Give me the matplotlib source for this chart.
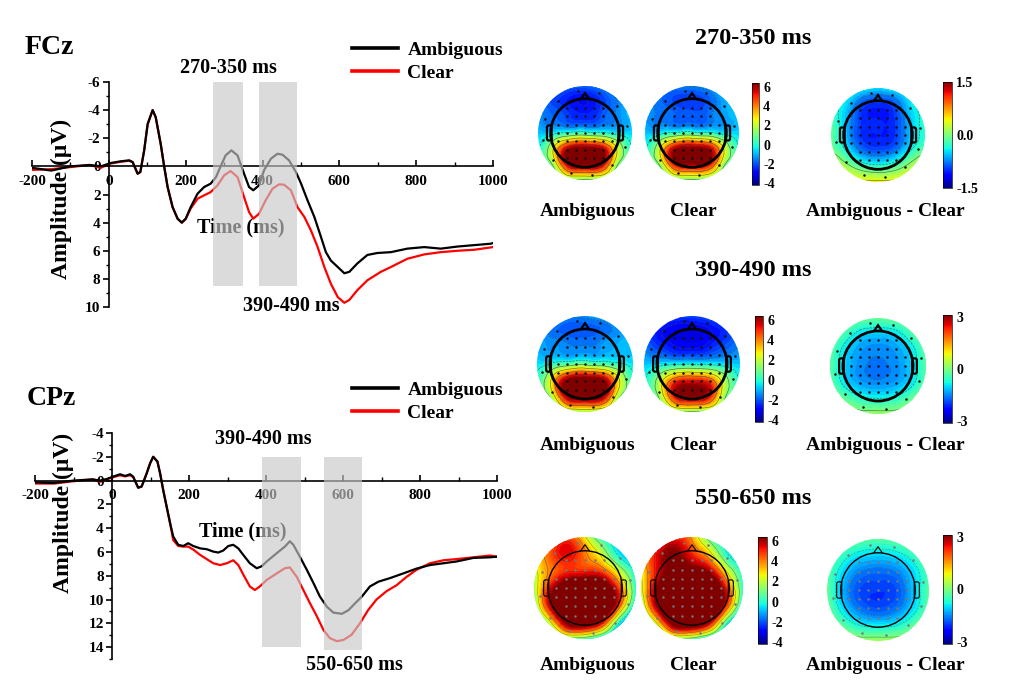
import numpy as np
import matplotlib
matplotlib.use("Agg")
import matplotlib.pyplot as plt
import matplotlib.tri as mtri
from matplotlib.patches import Circle, Polygon, FancyBboxPatch
from matplotlib.lines import Line2D
from matplotlib.ticker import MultipleLocator

plt.rcParams["font.family"] = ["Liberation Serif", "DejaVu Serif"]
plt.rcParams["font.weight"] = "bold"
plt.rcParams["axes.unicode_minus"] = False

# =========================
# ERP WAVEFORMS
# =========================
fcz_amb_t = [-200, -150, -100, -50, -21, 5, 31, 53, 62, 75, 82, 92, 101, 114, 122, 135,
             144, 153, 166, 179, 190, 200, 213, 231, 248, 265, 279, 291, 304, 319, 335,
             352, 365, 376, 391, 404, 422, 439, 452, 469, 487, 500, 517, 535, 552, 565,
             578, 596, 613, 626, 647, 673, 699, 734, 777, 821, 864, 908, 951, 994, 1000]
fcz_amb = [0.1, 0.3, 0.0, -0.1, 0.0, -0.24, -0.36, -0.43, -0.3, 0.52, 0.4, -1.14, -3.0,
           -4.0, -3.5, -1.6, 0.0, 1.47, 2.9, 3.72, 4.0, 3.72, 2.9, 1.94, 1.47, 1.23, 0.76,
           0.0, -0.78, -1.14, -0.78, 0.52, 1.47, 1.7, 1.35, 0.28, -0.55, -0.9, -0.83,
           -0.43, 0.4, 1.2, 2.4, 3.6, 5.0, 6.1, 6.7, 7.16, 7.6, 7.5, 6.9, 6.3, 6.16, 6.1,
           5.85, 5.74, 5.85, 5.7, 5.6, 5.5, 5.45]

fcz_clear_t = [-200, -150, -100, -50, -21, 5, 31, 53, 62, 75, 82, 92, 101, 114, 122, 135,
               144, 153, 166, 179, 190, 200, 213, 231, 248, 265, 283, 300, 317, 335, 352,
               365, 376, 391, 408, 426, 443, 456, 474, 491, 509, 526, 543, 561, 578, 596,
               613, 626, 647, 673, 708, 734, 777, 821, 864, 908, 951, 1000]
fcz_clear = [0.25, 0.2, 0.05, -0.1, 0.1, -0.2, -0.33, -0.4, -0.3, 0.52, 0.4, -1.14, -3.0,
             -4.0, -3.5, -1.6, 0.0, 1.47, 2.9, 3.72, 4.0, 3.75, 3.0, 2.3, 2.06, 1.83, 1.35,
             0.64, 0.33, 0.76, 2.18, 3.25, 3.72, 3.37, 2.42, 1.59, 1.28, 1.3, 1.7, 2.9, 3.6,
             4.55, 5.7, 7.16, 8.35, 9.3, 9.7, 9.5, 8.8, 8.1, 7.5, 7.16, 6.57, 6.26, 6.1, 6.0,
             5.93, 5.74]

cpz_amb_t = [-200, -150, -100, -50, -31, -14, 8, 21, 34, 47, 55, 68, 77, 90, 99, 107, 118,
             125, 133, 142, 151, 159, 172, 185, 198, 211, 229, 246, 263, 276, 289, 302,
             315, 328, 341, 358, 376, 389, 402, 428, 449, 462, 471, 488, 506, 523, 540,
             558, 575, 597, 614, 632, 649, 670, 692, 722, 757, 791, 826, 861, 895, 939,
             982, 1000]
cpz_amb = [0.15, 0.2, 0.0, -0.1, 0.0, -0.13, -0.39, -0.53, -0.39, -0.53, -0.33, 0.6, 0.5,
           -0.6, -1.45, -2.0, -1.6, -0.6, 0.8, 2.2, 3.6, 4.7, 5.4, 5.5, 5.27, 5.5, 5.7,
           5.77, 5.97, 6.05, 5.88, 5.5, 5.4, 5.7, 6.25, 6.95, 7.37, 7.2, 6.8, 6.1, 5.55,
           5.1, 5.4, 6.4, 7.5, 8.6, 9.75, 10.6, 11.1, 11.2, 10.9, 10.3, 9.75, 8.9, 8.5,
           8.2, 7.8, 7.4, 7.1, 6.95, 6.8, 6.5, 6.45, 6.4]

cpz_clear_t = [-200, -150, -100, -50, -31, -14, 8, 21, 34, 47, 55, 68, 77, 90, 99, 107,
               118, 125, 133, 142, 151, 159, 172, 185, 198, 211, 229, 246, 263, 281, 298,
               315, 328, 341, 358, 371, 384, 402, 428, 449, 462, 480, 497, 514, 532, 549,
               566, 584, 601, 622, 644, 665, 687, 713, 739, 765, 791, 826, 861, 895, 939,
               982, 1000]
cpz_clear = [0.25, 0.25, 0.05, -0.1, 0.1, -0.1, -0.33, -0.45, -0.35, -0.45, -0.3, 0.6,
             0.5, -0.6, -1.45, -2.0, -1.6, -0.6, 0.8, 2.2, 3.6, 5.0, 5.5, 5.55, 5.55, 5.8,
             6.25, 6.6, 6.95, 7.1, 6.95, 6.7, 7.1, 7.9, 8.9, 9.2, 8.9, 8.35, 7.8, 7.37, 7.3,
             8.1, 9.2, 10.3, 11.4, 12.55, 13.25, 13.5, 13.4, 12.97, 12.0, 10.9, 10.0, 9.3,
             8.8, 8.1, 7.5, 6.95, 6.7, 6.6, 6.45, 6.3, 6.4]

# analysis windows: start, end (ms), shaded amplitude range
fcz_windows = [(270, 350, -6, 8.5), (390, 490, -6, 8.5)]
cpz_windows = [(390, 490, -2, 14), (550, 650, -2, 14.25)]

# =========================
# TOPOGRAPHIC MAPS (7x7 grid, front of head at top)
# =========================
topo_270_amb = [[-1.0, -1.4, -1.8, -1.9, -1.5, -0.9, -0.6],
                [-1.5, -2.2, -2.7, -2.9, -2.4, -1.6, -0.9],
                [-1.3, -1.8, -2.3, -2.5, -2.1, -1.5, -0.9],
                [-0.8, -0.5, 0.0, 0.2, 0.0, -0.5, -0.6],
                [-0.3, 2.5, 6.0, 6.5, 6.0, 2.5, -0.2],
                [0.3, 1.5, 6.0, 6.5, 6.0, 1.5, 0.3],
                [0.5, 0.5, 0.8, 1.0, 0.8, 0.5, 0.5]]
topo_270_clear = [[-0.8, -1.2, -1.5, -1.5, -1.2, -0.5, -0.3],
                  [-1.3, -1.8, -2.2, -2.3, -2.0, -1.2, -0.6],
                  [-1.2, -1.6, -1.9, -2.0, -1.8, -1.3, -0.8],
                  [-0.8, -0.5, 0.0, 0.2, 0.0, -0.5, -0.6],
                  [-0.3, 2.5, 6.0, 6.5, 6.0, 2.5, -0.2],
                  [0.3, 1.5, 5.5, 6.0, 5.5, 1.5, 0.3],
                  [0.5, 0.5, 0.8, 1.0, 0.8, 0.5, 0.5]]
topo_270_diff = [[-0.2, -0.3, -0.4, -0.5, -0.4, -0.3, -0.2],
                 [-0.3, -0.5, -0.9, -1.0, -0.9, -0.5, -0.3],
                 [-0.2, -0.6, -1.0, -1.05, -1.0, -0.6, -0.3],
                 [-0.1, -0.6, -1.0, -1.05, -1.0, -0.6, -0.3],
                 [0.0, -0.4, -0.8, -0.9, -0.8, -0.4, -0.1],
                 [0.4, 0.1, -0.2, -0.3, -0.2, 0.1, 0.4],
                 [0.5, 0.5, 0.45, 0.45, 0.45, 0.5, 0.5]]

topo_390_amb = [[-1.0, -1.2, -1.4, -1.4, -1.2, -1.0, -0.8],
                [-1.3, -1.7, -2.0, -2.0, -1.8, -1.4, -1.0],
                [-1.0, -1.3, -1.5, -1.5, -1.3, -1.0, -0.8],
                [-0.5, 0.0, 0.5, 0.8, 0.5, 0.0, -0.5],
                [0.0, 3.0, 6.5, 7.0, 6.5, 3.0, 0.0],
                [0.3, 2.0, 6.5, 7.0, 6.5, 2.0, 0.3],
                [0.5, 0.8, 1.2, 1.5, 1.2, 0.8, 0.5]]
topo_390_clear = [[-1.3, -1.8, -2.2, -2.2, -2.0, -1.6, -1.2],
                  [-2.0, -2.8, -3.2, -3.3, -3.0, -2.5, -1.8],
                  [-1.6, -2.3, -2.8, -2.9, -2.6, -2.0, -1.5],
                  [-0.8, -0.6, -0.4, -0.3, -0.4, -0.6, -0.8],
                  [-0.3, 1.8, 4.5, 5.0, 4.5, 1.8, -0.3],
                  [0.0, 1.5, 5.5, 6.3, 5.5, 1.5, 0.0],
                  [0.3, 0.5, 0.8, 1.0, 0.8, 0.5, 0.3]]
topo_390_diff = [[0.1, 0.0, -0.1, -0.2, -0.1, 0.0, 0.1],
                 [0.0, -0.5, -1.0, -1.1, -1.0, -0.5, 0.0],
                 [-0.2, -1.0, -1.4, -1.5, -1.4, -1.0, -0.2],
                 [-0.3, -1.1, -1.5, -1.6, -1.5, -1.1, -0.3],
                 [-0.2, -1.0, -1.4, -1.5, -1.4, -1.0, -0.2],
                 [0.1, -0.3, -0.7, -0.8, -0.7, -0.3, 0.1],
                 [0.4, 0.3, 0.2, 0.2, 0.2, 0.3, 0.4]]

topo_550_amb = [[1.5, 3.5, 4.5, 2.5, 0.0, -1.0, -1.5],
                [2.5, 4.5, 5.5, 4.0, 2.0, -0.5, -1.5],
                [2.0, 4.0, 5.0, 5.0, 4.5, 2.0, -0.5],
                [1.5, 5.5, 8.0, 8.5, 8.0, 4.5, 0.0],
                [0.5, 6.0, 9.0, 9.5, 9.0, 4.5, -1.0],
                [-0.3, 2.5, 7.0, 7.5, 5.5, 0.0, -3.0],
                [-0.5, 0.0, 0.5, 0.3, -1.0, -2.5, -3.5]]
topo_550_clear = [[2.0, 4.0, 5.0, 3.5, 0.5, -0.5, -1.0],
                  [3.0, 5.5, 6.5, 5.0, 3.0, 0.0, -1.0],
                  [2.5, 5.5, 7.0, 7.0, 6.0, 2.5, -0.3],
                  [2.0, 6.5, 9.0, 9.5, 9.0, 5.0, 0.0],
                  [1.0, 6.5, 9.5, 10.0, 9.5, 5.0, -0.8],
                  [0.0, 3.0, 7.5, 8.0, 6.0, 0.5, -2.5],
                  [-0.5, 0.3, 0.8, 0.5, -0.8, -2.0, -3.0]]
topo_550_diff = [[0.2, 0.0, -0.2, -0.3, -0.2, 0.0, 0.2],
                 [0.0, -0.6, -1.0, -1.1, -1.0, -0.6, 0.0],
                 [-0.2, -1.1, -1.6, -1.7, -1.6, -1.1, -0.3],
                 [-0.2, -1.3, -1.9, -2.0, -1.9, -1.2, -0.3],
                 [-0.1, -1.1, -1.7, -1.9, -1.7, -1.1, -0.2],
                 [0.2, -0.4, -0.9, -1.0, -0.9, -0.4, 0.2],
                 [0.5, 0.4, 0.3, 0.3, 0.3, 0.4, 0.5]]

W, H = 1031, 696
fig = plt.figure(figsize=(W / 100, H / 100), dpi=100)


def fx(px):
    return px / W


def fy(py):
    return 1 - py / H


def erp_panel(left, right, top, bottom, ylim, amb_t, amb, clear_t, clear, windows, title,
              title_xy, legend_top, ylabel_xy, notes, time_xy):
    ax = fig.add_axes([fx(left), fy(bottom), (right - left) / W, (bottom - top) / H])
    ax.plot(clear_t, clear, color="red", lw=1.6, zorder=2)
    ax.plot(amb_t, amb, color="black", lw=1.6, zorder=2)
    ax.set_xlim(-200, 1000)
    ax.set_ylim(ylim)
    for spine in ["top", "right"]:
        ax.spines[spine].set_visible(False)
    ax.spines["left"].set_position(("data", 0))
    ax.spines["bottom"].set_position(("data", 0))
    ax.spines["left"].set_linewidth(1.2)
    ax.spines["bottom"].set_linewidth(1.2)
    ax.xaxis.set_major_locator(MultipleLocator(200))
    ax.xaxis.set_minor_locator(MultipleLocator(100))
    ax.yaxis.set_major_locator(MultipleLocator(2))
    ax.yaxis.set_minor_locator(MultipleLocator(1))
    ax.tick_params(axis="x", which="both", direction="in", labelsize=11, pad=6)
    ax.tick_params(axis="x", which="major", length=4, width=1.2)
    ax.tick_params(axis="x", which="minor", length=3, width=1)
    ax.tick_params(axis="y", which="both", direction="out", labelsize=11, pad=2)
    ax.tick_params(axis="y", which="major", length=4, width=1.2)
    ax.tick_params(axis="y", which="minor", length=2, width=1)
    ax.patch.set_visible(False)

    for a, b, y0, y1 in windows:
        ax.fill_between([a, b], y0, y1, color="#c8c8c8", alpha=0.65, lw=0, zorder=5)

    ax.text(time_xy[0], time_xy[1], "Time (ms)", fontsize=14.5, ha="center",
            va="center", zorder=3)
    for txt, x, y in notes:
        ax.text(x, y, txt, fontsize=14.5, ha="center", va="center", clip_on=False)

    fig.text(fx(title_xy[0]), fy(title_xy[1]), title, fontsize=20, ha="left", va="center")
    fig.text(fx(ylabel_xy[0]), fy(ylabel_xy[1]), "Amplitude (\u03bcV)", fontsize=17,
             rotation=90, ha="center", va="center")

    handles = [Line2D([], [], color="black", lw=2.6), Line2D([], [], color="red", lw=2.6)]
    ax.legend(handles, ["Ambiguous", "Clear"], loc="upper left",
              bbox_to_anchor=(fx(352), fy(legend_top)), bbox_transform=fig.transFigure,
              frameon=False, fontsize=14, handlelength=2.35, handletextpad=0.5,
              labelspacing=0.3, borderpad=0, borderaxespad=0)
    return ax


erp_panel(32, 493, 82, 307, (10, -6), fcz_amb_t, fcz_amb, fcz_clear_t, fcz_clear,
          fcz_windows, "FCz", (25, 47), 41, (61, 199),
          [("270-350 ms", 312, -7.0), ("390-490 ms", 474, 9.95)], (343, 4.35))
erp_panel(35, 497, 433, 659, (15, -4), cpz_amb_t, cpz_amb, cpz_clear_t, cpz_clear,
          cpz_windows, "CPz", (27, 398), 381, (63, 513),
          [("390-490 ms", 392, -3.5), ("550-650 ms", 631, 15.5)], (340, 4.25))

# =========================
# TOPOGRAPHIES
# =========================
grid_pos = np.linspace(-1, 1, 7)
gx, gy = np.meshgrid(grid_pos, grid_pos[::-1])
triang = mtri.Triangulation(gx.ravel(), gy.ravel())
refiner = mtri.UniformTriRefiner(triang)

HEAD_R = 0.73


def topomap(cx, cy, r, values, vmin, vmax, faint=False):
    size = 2.04 * r
    ax = fig.add_axes([fx(cx - size / 2), fy(cy + size / 2), size / W, size / H])
    ax.set_xlim(-1.02, 1.02)
    ax.set_ylim(-1.02, 1.02)
    ax.set_aspect("equal")
    ax.axis("off")
    z = np.array(values, float).ravel()
    tri_f, z_f = refiner.refine_field(z, subdiv=4)
    clip = Circle((0, 0), 1.0, transform=ax.transData)
    cf = ax.tricontourf(tri_f, z_f, levels=np.linspace(vmin, vmax, 41), cmap="jet",
                        extend="both")
    cf.set_clip_path(clip)
    cl = ax.tricontour(tri_f, z_f, levels=np.linspace(vmin, vmax, 9)[1:-1],
                       colors="#3a3a3a", linewidths=0.45, alpha=0.5 if faint else 0.75)
    cl.set_clip_path(clip)

    lw = 1.0 if faint else 2.0
    ax.add_patch(Circle((0, 0), HEAD_R, fill=False, lw=lw, color="black", zorder=4))
    ax.add_patch(Polygon([(-0.09, HEAD_R - 0.01), (0, HEAD_R + 0.12), (0.09, HEAD_R - 0.01)],
                         closed=False, fill=False, lw=lw * 0.8, color="black", zorder=4))
    for side in (-1, 1):
        x0 = HEAD_R - 0.01 if side > 0 else -HEAD_R - 0.07
        ax.add_patch(FancyBboxPatch((x0, -0.15), 0.08, 0.30,
                                    boxstyle="round,pad=0.01,rounding_size=0.04",
                                    fill=False, lw=lw * 0.8, color="black", zorder=4))
    dot_color = "#777777" if faint else "#111111"
    for yy in np.arange(0.54, -0.6, -0.18):
        half = np.sqrt(HEAD_R ** 2 - yy ** 2) * 0.82
        n = int(half / 0.19)
        xs = np.arange(-n, n + 1) * 0.19
        ax.plot(xs, np.full(len(xs), yy), ls="none", marker="o", ms=0.8,
                color=dot_color, zorder=5)
    ang = np.deg2rad(np.arange(10, 360, 30))
    ax.plot(0.9 * np.cos(ang), 0.9 * np.sin(ang), ls="none", marker="o", ms=0.8,
            color=dot_color, zorder=5)
    return ax


def cbar(x0, x1, y0, y1, vmin, vmax, ticks, labels):
    cax = fig.add_axes([fx(x0), fy(y1), (x1 - x0) / W, (y1 - y0) / H])
    sm = plt.cm.ScalarMappable(norm=plt.Normalize(vmin, vmax), cmap="jet")
    cb = fig.colorbar(sm, cax=cax, ticks=ticks)
    cb.set_ticklabels(labels)
    cb.ax.tick_params(length=0, labelsize=10, pad=3)
    cb.outline.set_linewidth(0.5)


rows = [
    ("270-350 ms", 38, 133, 47, topo_270_amb, topo_270_clear, topo_270_diff,
     (83, 185), (82, 188), (1.5, [-1.5, 0, 1.5], ["-1.5", "0.0", "1.5"]), 212, False),
    ("390-490 ms", 271, 364, 48, topo_390_amb, topo_390_clear, topo_390_diff,
     (316, 422), (315, 423), (3.1, [-3, 0, 3], ["-3", "0", "3"]), 445, False),
    ("550-650 ms", 498, 588, 51, topo_550_amb, topo_550_clear, topo_550_diff,
     (537, 644), (535, 644), (3.1, [-3, 0, 3], ["-3", "0", "3"]), 665, True),
]
cb_left_x = [(752, 759), (755, 763), (758, 767)]
for i, (title, ty, cy, r, amb, clear, diff, cb1, cb2, dinfo, ly, faint) in enumerate(rows):
    fig.text(fx(753), fy(ty), title, fontsize=17.5, ha="center", va="center")
    topomap(585, cy, r, amb, -4.2, 6.4, faint)
    topomap(692, cy, r, clear, -4.2, 6.4, faint)
    dlim, dticks, dlabels = dinfo
    topomap(878, cy + 2, r, diff, -dlim, dlim, faint)
    cbar(cb_left_x[i][0], cb_left_x[i][1], cb1[0], cb1[1], -4.2, 6.4,
         [-4, -2, 0, 2, 4, 6], ["-4", "-2", "0", "2", "4", "6"])
    cbar(943, 952, cb2[0], cb2[1], -dlim, dlim, dticks, dlabels)
    fig.text(fx(588), fy(ly), "Ambiguous", fontsize=14, ha="center", va="center")
    fig.text(fx(693), fy(ly), "Clear", fontsize=14, ha="center", va="center")
    fig.text(fx(885), fy(ly), "Ambiguous - Clear", fontsize=14, ha="center", va="center")

fig.savefig("out.png", dpi=100)
print("Figure generated.")
